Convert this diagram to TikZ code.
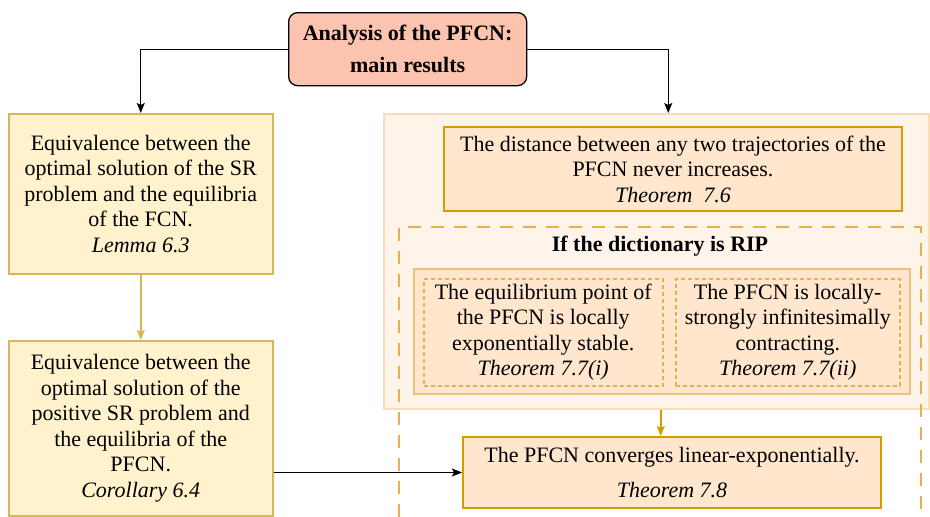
\documentclass[tikz,border=0pt]{standalone}
\usepackage{fontspec}
\setmainfont{Liberation Serif}
\usetikzlibrary{arrows.meta,calc}
\definecolor{salmon}{HTML}{FCC3AE}
\definecolor{ylwfill}{HTML}{FFF2CC}
\definecolor{ylwdraw}{HTML}{D6B656}
\definecolor{orgfill}{HTML}{FFE6CC}
\definecolor{orgdraw}{HTML}{D79B00}
\definecolor{pale}{HTML}{FFF4E9}
\definecolor{paledraw}{HTML}{F8DDB8}
\definecolor{innerdraw}{HTML}{EBC27C}
\definecolor{dashdraw}{HTML}{E8B04C}
\begin{document}
\begin{tikzpicture}[x=1pt,y=-1pt,
  every node/.style={font=\fontsize{22}{25.5}\selectfont, inner sep=0pt, align=center},
  corner/.style={rectangle, anchor=north west},
  titlebox/.style={corner, draw=black, fill=salmon, line width=1.3pt, rounded corners=9pt},
  ylwbox/.style={corner, draw=ylwdraw, fill=ylwfill, line width=1.5pt},
  orgbox/.style={corner, draw=orgdraw, fill=orgfill, line width=2pt},
  palebox/.style={corner, draw=paledraw, fill=pale, line width=1.5pt},
  innerbox/.style={corner, draw=innerdraw, fill=orgfill, line width=2pt},
  subbox/.style={corner, draw=dashdraw, fill=orgfill, line width=1.5pt, dash pattern=on 4pt off 3pt},
  blackarrow/.style={draw=black, line width=1.3pt, -{Stealth[length=10pt,width=8pt,inset=2pt]}},
  goldarrow/.style={line width=1.6pt, -{Stealth[length=10pt,width=8pt,inset=2pt]}},
  groupline/.style={draw=dashdraw, line width=1.5pt, dash pattern=on 13pt off 10pt}
]
\useasboundingbox (0,0) rectangle (930,517);

% title
\node[titlebox, minimum width=238pt, minimum height=73pt] (title) at (288,12)
  {\textbf{Analysis of the PFCN:}\\[6.5pt]\textbf{main results}};

% left column
\node[ylwbox, minimum width=264pt, minimum height=160pt] (lb1) at (8,113)
  {Equivalence between the\\optimal solution of the SR\\problem and the equilibria\\of the FCN.\\\textit{Lemma 6.3}};
\node[ylwbox, minimum width=264pt, minimum height=175pt] (lb2) at (8,340)
  {Equivalence between the\\optimal solution of the\\positive SR problem and\\the equilibria of the\\PFCN.\\\textit{Corollary 6.4}};

% right container
\node[palebox, minimum width=545pt, minimum height=295pt] (cont) at (383,113) {};
\node[orgbox, minimum width=458pt, minimum height=84pt] (t76) at (443,126)
  {The distance between any two trajectories of the\\PFCN never increases.\\\textit{Theorem\enspace 7.6}};

% dashed group
\coordinate (gbl) at (399,517);
\coordinate (gtl) at (399,227);
\coordinate (gtr) at (921,227);
\coordinate (gbr) at (921,517);
\draw[groupline] (gbl) -- (gtl) -- (gtr) -- (gbr);
\node (rip) at (660,246) {\textbf{If the dictionary is RIP}};

\node[innerbox, minimum width=496pt, minimum height=125pt] (inner) at (413,268) {};
\node[subbox, minimum width=239pt, minimum height=107pt] (s1) at (423,278)
  {The equilibrium point of\\the PFCN is locally\\exponentially stable.\\\textit{Theorem 7.7(i)}};
\node[subbox, minimum width=224pt, minimum height=107pt] (s2) at (675,278)
  {The PFCN is locally-\\strongly infinitesimally\\contracting.\\\textit{Theorem 7.7(ii)}};

% bottom box
\node[orgbox, minimum width=418pt, minimum height=71pt] (bot) at (462,436)
  {The PFCN converges linear-exponentially.\\[9.5pt]\textit{Theorem 7.8}};

% connectors
\draw[blackarrow] (title.west) -| (lb1.north);
\draw[blackarrow] (title.east) -| ([xshift=12pt]cont.north);
\draw[goldarrow, draw=ylwdraw] (lb1.south) -- (lb2.north);
\draw[goldarrow, draw=orgdraw] ([xshift=4.5pt]cont.south) -- ([xshift=4.5pt]cont.south |- bot.north);
\draw[blackarrow] (lb2.east |- bot.west) -- (bot.west);
\end{tikzpicture}
\end{document}
